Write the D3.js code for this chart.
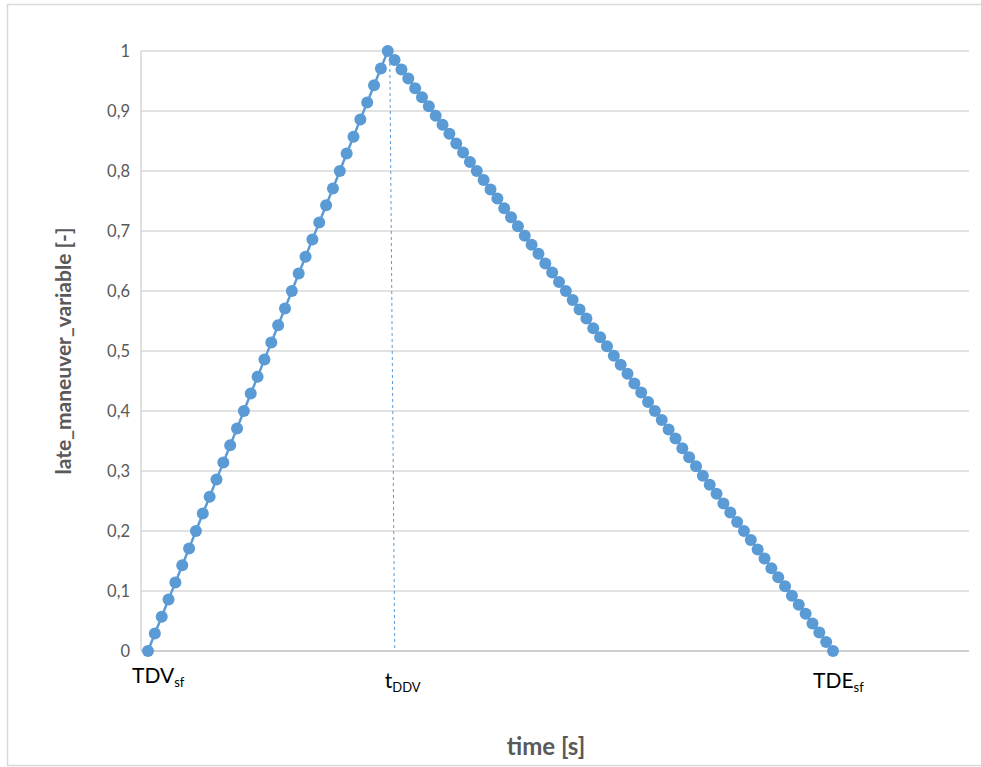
<!DOCTYPE html>
<html>
<head>
<meta charset="utf-8">
<script src="https://cdn.jsdelivr.net/npm/d3@7/dist/d3.min.js"></script>
<style>
  html, body { margin: 0; padding: 0; background: #fff; }
  svg { display: block; }
</style>
</head>
<body>
<svg id="chart" width="981" height="767"></svg>
<script>
// ---- data ----
const riseValues = [0, 0.029, 0.057, 0.086, 0.114, 0.143, 0.171, 0.2, 0.229, 0.257, 0.286, 0.314,
  0.343, 0.371, 0.4, 0.429, 0.457, 0.486, 0.514, 0.543, 0.571, 0.6, 0.629, 0.657, 0.686, 0.714,
  0.743, 0.771, 0.8, 0.829, 0.857, 0.886, 0.914, 0.943, 0.971, 1];
const fallValues = [0.985, 0.969, 0.954, 0.938, 0.923, 0.908, 0.892, 0.877, 0.862, 0.846, 0.831,
  0.815, 0.8, 0.785, 0.769, 0.754, 0.738, 0.723, 0.708, 0.692, 0.677, 0.662, 0.646, 0.631, 0.615,
  0.6, 0.585, 0.569, 0.554, 0.538, 0.523, 0.508, 0.492, 0.477, 0.462, 0.446, 0.431, 0.415, 0.4,
  0.385, 0.369, 0.354, 0.338, 0.323, 0.308, 0.292, 0.277, 0.262, 0.246, 0.231, 0.215, 0.2, 0.185,
  0.169, 0.154, 0.138, 0.123, 0.108, 0.092, 0.077, 0.062, 0.046, 0.031, 0.015, 0];
const yTicks = [0, 0.1, 0.2, 0.3, 0.4, 0.5, 0.6, 0.7, 0.8, 0.9, 1];
const xLabelIndex = [0, 35, 100];
const xLabelMain = ["TDV", "t", "TDE"];
const xLabelSub = ["sf", "DDV", "sf"];
const markerIndex = 35; // t_DDV
const yTitle = "late_maneuver_variable [-]";
const xTitle = "time [s]";

(function () {
const values = riseValues.concat(fallValues);
const points = values.map((v, i) => ({ t: i, v: v }));

// ---- layout ----
const svg = d3.select("#chart");
const pL = 141, pR = 969, pT = 51, pB = 651;
const x = d3.scaleLinear().domain([-1.02, 119.85]).range([pL, pR]);
const y = d3.scaleLinear().domain([0, 1]).range([pB, pT]);
const font = "Lato, 'Open Sans', sans-serif";
const blue = "#5b9bd5";

// chart border
svg.append("rect").attr("x", 7.5).attr("y", 4.5).attr("width", 990).attr("height", 761)
  .attr("fill", "none").attr("stroke", "#d9d9d9").attr("stroke-width", 1.5);

// gridlines
svg.append("g").selectAll("line").data(yTicks.filter(d => d > 0)).join("line")
  .attr("x1", pL).attr("x2", pR)
  .attr("y1", d => y(d)).attr("y2", d => y(d))
  .attr("stroke", "#d9d9d9").attr("stroke-width", 1.3);

// y axis line
svg.append("line").attr("x1", pL).attr("x2", pL).attr("y1", pT).attr("y2", pB)
  .attr("stroke", "#d0d0d0").attr("stroke-width", 1.3);
// x axis line
svg.append("line").attr("x1", pL).attr("x2", pR).attr("y1", pB).attr("y2", pB)
  .attr("stroke", "#bfbfbf").attr("stroke-width", 1.5);

// y tick labels
const fmt = d => d3.format(".1~f")(d).replace(".", ",");
svg.append("g").selectAll("text").data(yTicks).join("text")
  .attr("x", 130).attr("y", d => y(d)).attr("dy", "0.36em")
  .attr("text-anchor", "end")
  .attr("font-family", font).attr("font-size", 16.5).attr("fill", "#595959")
  .text(d => fmt(d));

// dashed marker line at t_DDV
svg.append("line")
  .attr("x1", x(markerIndex) + 2).attr("y1", y(1))
  .attr("x2", x(markerIndex) + 7).attr("y2", y(0))
  .attr("stroke", blue).attr("stroke-width", 1).attr("stroke-dasharray", "3,3");

// series line
svg.append("path").datum(points)
  .attr("d", d3.line().x(d => x(d.t)).y(d => y(d.v)))
  .attr("fill", "none").attr("stroke", blue).attr("stroke-width", 2.5);

// markers
svg.append("g").selectAll("circle").data(points).join("circle")
  .attr("cx", d => x(d.t)).attr("cy", d => y(d.v)).attr("r", 6)
  .attr("fill", blue);

// x labels
const xOffsets = [[-16, 683], [-3, 688], [-20, 688]];
const xl = svg.append("g").selectAll("text").data(xLabelIndex).join("text")
  .attr("x", (d, i) => x(d) + xOffsets[i][0]).attr("y", (d, i) => xOffsets[i][1])
  .attr("font-family", font).attr("font-size", 21).attr("fill", "#000");
xl.append("tspan").text((d, i) => xLabelMain[i]);
xl.append("tspan").attr("font-size", 13).attr("dy", 4).text((d, i) => xLabelSub[i]);

// axis titles
svg.append("text")
  .attr("transform", `translate(71, ${(pT + pB) / 2}) rotate(-90)`)
  .attr("text-anchor", "middle")
  .attr("font-family", font).attr("font-weight", "bold").attr("font-size", 21)
  .attr("fill", "#595959").text(yTitle);
svg.append("text")
  .attr("x", 546).attr("y", 755).attr("text-anchor", "middle")
  .attr("font-family", font).attr("font-weight", "bold").attr("font-size", 24)
  .attr("fill", "#595959").text(xTitle);
})();
</script>
</body>
</html>
